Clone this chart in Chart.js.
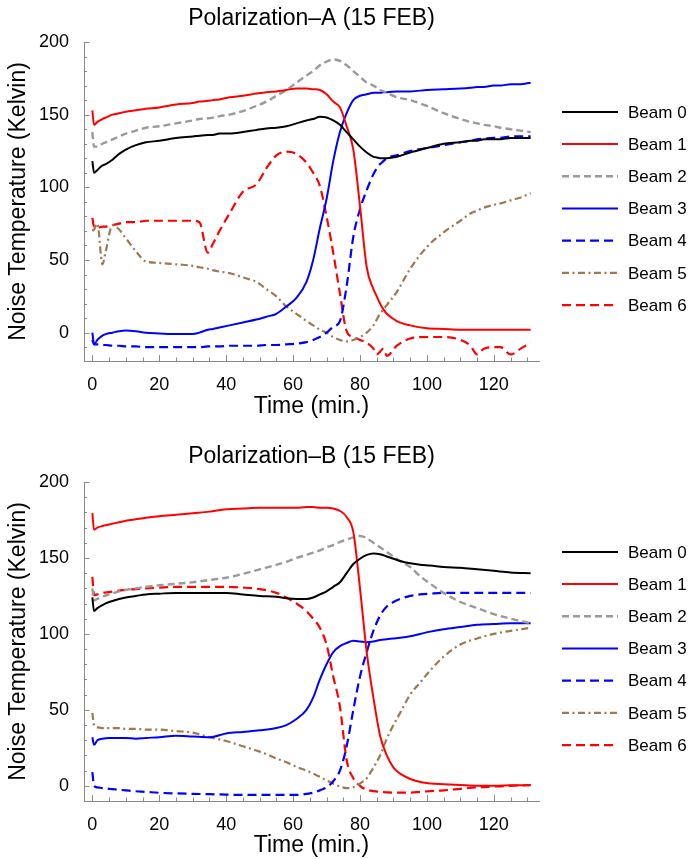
<!DOCTYPE html>
<html>
<head>
<meta charset="utf-8">
<script src="https://cdn.jsdelivr.net/npm/chart.js@4/dist/chart.umd.min.js"></script>
<style>
  html, body { margin: 0; padding: 0; background: #fff; }
  body { width: 690px; height: 859px; position: relative; overflow: hidden; }
  canvas { position: absolute; left: 0; }
  #cA { top: 0; }
  #cB { top: 440px; }
</style>
</head>
<body>
<canvas id="cA" width="690" height="420"></canvas>
<canvas id="cB" width="690" height="419"></canvas>
<script>
// ---------- DATA ----------
const beamLabels = ['Beam 0', 'Beam 1', 'Beam 2', 'Beam 3', 'Beam 4', 'Beam 5', 'Beam 6'];
const xTickValues = [0, 20, 40, 60, 80, 100, 120];
const yTickValuesA = [0, 50, 100, 150, 200];
const yTickValuesB = [0, 50, 100, 150, 200];

// Polarization-A
const timeA = [0, 0.5, 1.5, 3, 4, 6, 8, 10, 13, 16,
  20, 25, 30, 32, 34.5, 36, 38, 41, 45, 49,
  52, 55, 58, 61, 64, 66, 68, 70, 72, 74,
  76, 78, 80, 82, 84, 85, 86, 87, 88, 91,
  95, 100, 105, 110, 113, 115, 117, 120, 122, 125,
  128, 131];
const beamA0 = [118, 110, 112, 115, 116, 119, 123, 126, 129, 131,
  132, 134, 135, 135.5, 136, 136, 137, 137, 138, 139.5,
  140.5, 141, 142, 144, 146, 147, 148.5, 148, 146, 143,
  138, 133, 128, 124, 121, 120.5, 120, 120, 120, 121,
  124, 127, 130, 131, 132, 132, 133, 133, 133, 134,
  134, 134];
const beamA1 = [153, 143, 145, 147, 148, 150, 151, 152, 153, 154,
  155, 157, 158, 159, 159.5, 160, 160.5, 162, 163, 164.5,
  165.5, 166, 167, 168, 168, 167.5, 167, 164, 159, 155,
  142, 126, 87, 45, 30, 25, 20, 16, 13, 8,
  5, 3, 2.5, 2, 2, 2, 2, 2, 2, 2,
  2, 2];
const beamA2 = [138, 128, 128, 130, 131, 133, 135, 137, 139, 141,
  142, 144, 146, 147, 147.5, 148, 149, 150, 152.5, 156,
  159, 163, 167, 172, 177, 180, 184, 186.5, 188, 187,
  184, 180, 176, 172, 170, 168.5, 167, 166, 165, 162,
  160, 156, 151, 147, 145, 144, 143, 142, 141, 140,
  139, 138];
const beamA3 = [0, -8, -5, -2, -1, 0, 1, 1.5, 1, 0,
  -0.5, -1, -1, 0, 2, 2.5, 3.5, 5, 7, 9,
  11, 13, 18, 24, 35, 50, 72, 92, 118, 138,
  151, 160, 163, 164, 165, 165, 165, 165.5, 165.5, 166,
  166, 167, 167.5, 168, 168.5, 169, 169, 170, 170, 171,
  171, 172];
const beamA4 = [-5, -8, -8, -8.5, -8.5, -9, -9, -9.5, -9.5, -10,
  -10, -10, -10, -10, -9.5, -9.5, -9.5, -9, -9, -9,
  -8.5, -8.5, -8, -7.5, -6.5, -5, -3, 0, 4, 8,
  32, 66, 85, 98, 109, 113, 116, 118, 120, 122,
  125, 127, 129, 131, 132, 133, 133.5, 134, 134, 135,
  135, 135];
const beamA5 = [70, 71, 75, 47, 56, 74, 71, 65, 56, 49,
  48, 47, 46, 45, 44, 43, 42, 41, 38, 35,
  30, 25, 18, 13, 8, 5, 2, 0, -3, -5,
  -6, -5, -3, 0, 5, 9, 13, 16, 19, 28,
  44, 59, 69, 77, 82, 84, 86, 88, 89, 91,
  93, 96];
const beamA6 = [79, 73, 72, 73, 73, 74, 75, 76, 76, 77,
  77, 77, 77, 76, 55, 61, 70, 82, 97, 102,
  113, 122, 124.5, 123, 117, 110, 101, 80, 55, 27,
  1, -3, -5, -7, -11, -15, -13, -11, -16, -9,
  -4, -3, -3, -5, -9, -15, -11, -10, -10, -15,
  -11, -7];

// Polarization-B
const timeB = [0, 0.5, 1.5, 3, 5, 8, 10, 13, 16, 20,
  25, 30, 35, 40, 45, 50, 55, 58, 61, 64,
  66, 68, 70, 72, 74, 76, 78, 80, 82, 84,
  86, 88, 90, 92, 95, 98, 101, 105, 110, 115,
  120, 125, 131];
const beamB0 = [124, 115, 117, 119, 121, 123, 124, 125, 126, 126.5,
  127, 127, 127, 127, 126, 125, 124.5, 123.5, 123, 123,
  124, 126, 128, 131, 134, 140, 146, 149.5, 152, 153,
  152.5, 151, 149.5, 148, 146.5, 145.5, 145, 144, 143.5, 142.5,
  141.5, 140.5, 140];
const beamB1 = [179.5, 168.5, 170, 171, 172, 173.5, 174.5, 175.5, 176.5, 177.5,
  178.5, 179.5, 180.5, 182, 182.5, 183, 183, 183, 183, 183.5,
  183.5, 183, 183, 182.5, 181, 177, 167, 130, 88, 58,
  33, 20, 12, 8, 4.5, 2.5, 1.5, 1, 0.5, 0,
  0, 0.3, 0.5];
const beamB2 = [130, 122, 123, 124.5, 126, 128, 129, 130, 131, 132,
  133, 134, 135.5, 137, 139.5, 142.5, 145.5, 147.5, 150, 152,
  153.5, 155, 157, 158.5, 160.5, 162, 163.5, 164.5, 163, 160,
  157, 154, 151, 148, 144, 138, 133, 127, 121, 117,
  113, 110, 107];
const beamB3 = [32, 27, 30, 31, 31.5, 31.5, 31.5, 31, 31.5, 32,
  33, 32.5, 32, 34.5, 35.5, 36.5, 38, 40, 44, 50,
  58, 70, 80, 88, 92, 94, 95.5, 95, 94.5, 95,
  96, 96.5, 97, 97.5, 98.5, 100, 101.5, 103, 104.5, 106,
  106.5, 107, 107];
const beamB4 = [9, 0, -1, -1.5, -2, -2.6, -3, -3.6, -4, -4.6,
  -5, -5.3, -5.5, -5.8, -6, -6, -6, -6, -6, -5.3,
  -4.5, -3, -1, 3, 10, 26, 50, 72, 88, 102,
  112, 118, 121, 123, 125, 126, 126.5, 127, 127, 127,
  127, 127, 127];
const beamB5 = [48, 40, 38.5, 38, 38, 38, 37.5, 37.5, 37, 37,
  36, 35, 32, 29.5, 26, 22.5, 18, 15.5, 12.5, 10,
  8, 6, 3.5, 1.5, -0.5, -1.5, -1, 1.5, 5, 12,
  20, 31, 40, 48, 60, 68, 76, 85, 93, 97,
  100, 102, 104];
const beamB6 = [137.5, 125.5, 126, 127, 127.5, 128.5, 129, 129.5, 130, 130.5,
  131, 131, 131, 131, 130.5, 129.5, 127, 124, 120, 115,
  110, 104, 93, 72, 52, 17, 5, 0, -2.5, -3.5,
  -4, -4.3, -4.5, -4.5, -4.5, -4, -3.5, -3, -2, -1,
  -0.5, 0, 0.5];

// ---------- STYLE ----------
const FONT = "'Liberation Sans', Arial, Helvetica, sans-serif";
const AXIS_COLOR = '#8a8a8a';
const beamStyles = [
  { color: '#000000', width: 2, dash: [] },
  { color: '#ff0000', width: 2, dash: [] },
  { color: '#9a9a9a', width: 2.4, dash: [7, 4] },
  { color: '#0000ff', width: 2, dash: [] },
  { color: '#0000ff', width: 2.2, dash: [9, 5] },
  { color: 'rgb(160,120,78)', width: 2.2, dash: [7, 3.5, 2, 3.5] },
  { color: '#ff0000', width: 2.2, dash: [9, 5] }
];

// tick marks drawn inward, placed with the chart's own scales
const tickMarks = {
  id: 'tickMarks',
  beforeDatasetsDraw(chart) {
    const { ctx, chartArea: ca, scales: { x, y } } = chart;
    ctx.save();
    ctx.strokeStyle = AXIS_COLOR;
    ctx.lineWidth = 1;
    ctx.beginPath();
    for (let v = 0; v <= x.max; v += 5) {
      const px = Math.round(x.getPixelForValue(v)) + 0.5;
      const len = (v % 20 === 0) ? 6 : 3.5;
      ctx.moveTo(px, ca.bottom);
      ctx.lineTo(px, ca.bottom - len);
    }
    for (let v = Math.ceil(y.min / 10) * 10; v <= y.max; v += 10) {
      const py = Math.round(y.getPixelForValue(v)) + 0.5;
      const len = (v % 50 === 0) ? 5.5 : 3;
      ctx.moveTo(ca.left, py);
      ctx.lineTo(ca.left + len, py);
    }
    ctx.stroke();
    ctx.restore();
  }
};

// side legend
const sideLegend = {
  id: 'sideLegend',
  afterDraw(chart, args, opts) {
    const { ctx, chartArea: ca } = chart;
    const ds = chart.data.datasets;
    const cy = (ca.top + ca.bottom) / 2 + opts.offsetY;
    ds.forEach((d, i) => {
      const yy = cy + (i - (ds.length - 1) / 2) * opts.spacing;
      ctx.save();
      ctx.strokeStyle = d.borderColor;
      ctx.lineWidth = d.borderWidth;
      ctx.setLineDash(d.borderDash || []);
      ctx.beginPath();
      ctx.moveTo(ca.right + opts.lineStart, yy);
      ctx.lineTo(ca.right + opts.lineEnd, yy);
      ctx.stroke();
      ctx.setLineDash([]);
      ctx.fillStyle = '#000';
      ctx.font = '17px ' + FONT;
      ctx.textBaseline = 'middle';
      ctx.textAlign = 'left';
      ctx.fillText(d.label, ca.right + opts.textStart, yy + 1);
      ctx.restore();
    });
  }
};

function makeChart(id, titleText, titlePadTop, times, seriesList, yMin, yTicks) {
  const datasets = seriesList.map((vals, i) => ({
    label: beamLabels[i],
    data: times.map((t, k) => ({ x: t, y: vals[k] })),
    borderColor: beamStyles[i].color,
    borderWidth: beamStyles[i].width,
    borderDash: beamStyles[i].dash,
    pointRadius: 0,
    fill: false,
    cubicInterpolationMode: 'monotone'
  }));
  return new Chart(document.getElementById(id), {
    type: 'line',
    data: { datasets },
    options: {
      responsive: false,
      animation: false,
      devicePixelRatio: 1,
      layout: { padding: { left: 0, right: 151, top: 0, bottom: 0 } },
      plugins: {
        legend: { display: false },
        tooltip: { enabled: false },
        title: {
          display: true,
          text: titleText,
          fullSize: false,
          color: '#000',
          font: { family: FONT, size: 23, weight: 'normal', lineHeight: 1.2 },
          padding: { top: titlePadTop, bottom: 42 - 27.6 - titlePadTop }
        },
        sideLegend: { offsetY: 7, spacing: 32.2, lineStart: 23, lineEnd: 79, textStart: 89 }
      },
      scales: {
        x: {
          type: 'linear',
          min: -2.5,
          max: 133.5,
          afterBuildTicks: (s) => { s.ticks = xTickValues.map(v => ({ value: v })); },
          afterFit: (s) => { s.height = s.chart.height - 361; },
          grid: { display: false },
          border: { display: true, color: AXIS_COLOR, width: 1 },
          ticks: { color: '#000', padding: 5, maxRotation: 0, font: { family: FONT, size: 18 } },
          title: {
            display: true, text: 'Time (min.)', color: '#000',
            font: { family: FONT, size: 23, lineHeight: 1.2 },
            padding: { top: 0, bottom: 0 }
          }
        },
        y: {
          type: 'linear',
          min: yMin,
          max: 200,
          afterBuildTicks: (s) => { s.ticks = yTicks.map(v => ({ value: v })); },
          afterFit: (s) => { s.width = 84; },
          grid: { display: false },
          border: { display: true, color: AXIS_COLOR, width: 1 },
          ticks: { color: '#000', padding: 7, font: { family: FONT, size: 18 } },
          title: {
            display: true, text: 'Noise Temperature (Kelvin)', color: '#000',
            font: { family: FONT, size: 23, lineHeight: 1.2 },
            padding: { top: 5, bottom: 0 }
          }
        }
      }
    },
    plugins: [tickMarks, sideLegend]
  });
}

makeChart('cA', 'Polarization\u2013A (15 FEB)', 5, timeA,
  [beamA0, beamA1, beamA2, beamA3, beamA4, beamA5, beamA6], -19.5, yTickValuesA);
makeChart('cB', 'Polarization\u2013B (15 FEB)', 3, timeB,
  [beamB0, beamB1, beamB2, beamB3, beamB4, beamB5, beamB6], -10, yTickValuesB);
</script>
</body>
</html>
